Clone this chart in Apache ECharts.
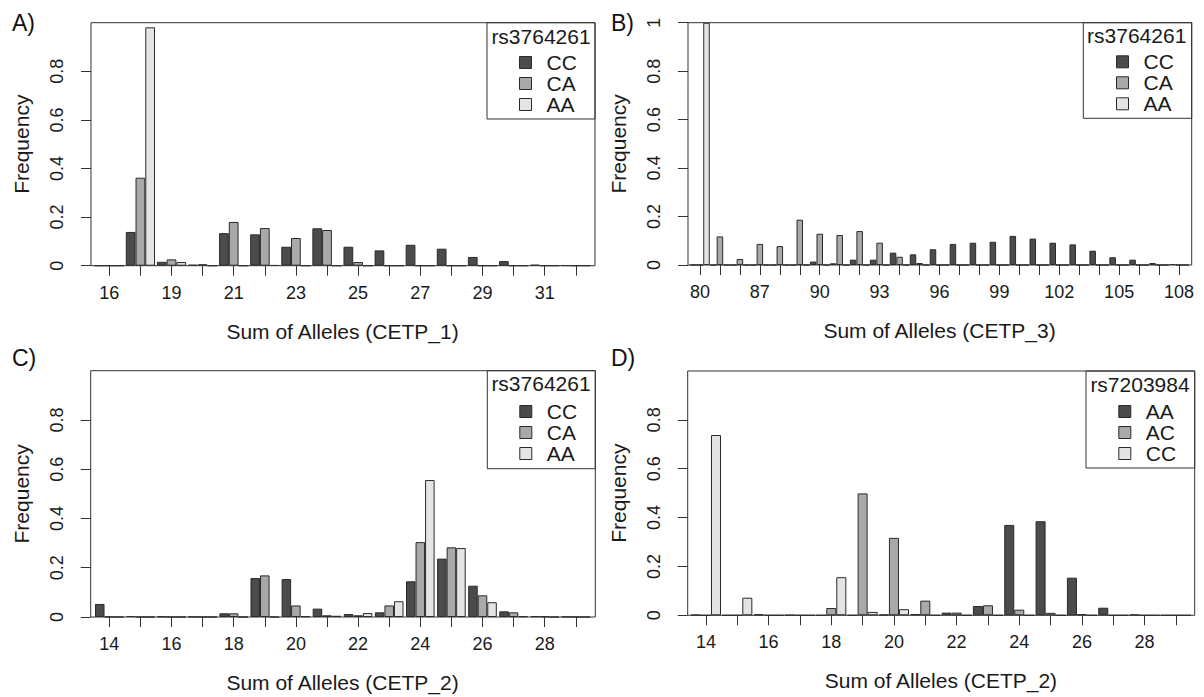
<!DOCTYPE html>
<html><head><meta charset="utf-8">
<script src="https://cdn.jsdelivr.net/npm/echarts@6/dist/echarts.min.js"></script>
<style>html,body{margin:0;padding:0;background:#fff}#c{width:1204px;height:697px}</style>
</head><body><div id="c"></div>
<script>
// ---------- data ----------
const catsA = ['16','18','19','20','21','22','23','24','25','26','27','28','29','30','31','32'];
const A_CC = [0, 0.139, 0.016, 0.004, 0.134, 0.129, 0.078, 0.154, 0.078, 0.063, 0.086, 0.070, 0.036, 0.019, 0.004, 0.001];
const A_CA = [0, 0.362, 0.026, 0.006, 0.180, 0.155, 0.114, 0.147, 0.015, 0, 0, 0, 0, 0, 0, 0];
const A_AA = [0, 0.981, 0.015, 0, 0, 0.002, 0, 0, 0, 0, 0, 0, 0, 0, 0, 0];

const catsB = ['80','83','85','87','88','89','90','91','92','93','94','95','96','97','98','99','100','101','102','103','104','105','106','107','108'];
const B_CC = [0, 0, 0, 0, 0, 0, 0.014, 0.007, 0.022, 0.022, 0.051, 0.044, 0.065, 0.087, 0.092, 0.096, 0.120, 0.109, 0.092, 0.085, 0.059, 0.032, 0.022, 0.008, 0.004];
const B_CA = [0, 0.118, 0.025, 0.087, 0.078, 0.187, 0.129, 0.124, 0.140, 0.092, 0.034, 0.008, 0, 0, 0, 0, 0, 0, 0, 0, 0, 0, 0, 0, 0];
const B_AA = [1.0, 0, 0, 0, 0, 0, 0, 0, 0, 0, 0, 0, 0, 0, 0, 0, 0, 0, 0, 0, 0, 0, 0, 0, 0];

const catsC = ['14','15','16','17','18','19','20','21','22','23','24','25','26','27','28','29'];
const C_CC = [0.053, 0.004, 0.002, 0.001, 0.015, 0.158, 0.154, 0.034, 0.012, 0.019, 0.145, 0.237, 0.127, 0.023, 0.003, 0.001];
const C_CA = [0.001, 0, 0, 0, 0.015, 0.169, 0.047, 0.007, 0.007, 0.047, 0.304, 0.283, 0.088, 0.019, 0.002, 0];
const C_AA = [0, 0, 0, 0, 0, 0, 0.003, 0.005, 0.016, 0.064, 0.556, 0.280, 0.060, 0.003, 0, 0];

const catsD = ['14','15','16','17','18','19','20','21','22','23','24','25','26','27','28','29'];
const D_AA = [0.002, 0, 0.004, 0.001, 0, 0, 0.003, 0.005, 0.011, 0.038, 0.370, 0.385, 0.154, 0.031, 0.003, 0];
const D_AC = [0, 0, 0, 0, 0.030, 0.499, 0.317, 0.060, 0.011, 0.041, 0.023, 0.010, 0.005, 0, 0, 0];
const D_CC = [0.738, 0.072, 0, 0, 0.156, 0.014, 0.025, 0, 0, 0, 0, 0, 0, 0, 0, 0];

const yTicksShort = [0, 0.2, 0.4, 0.6, 0.8];
const yTicksFull = [0, 0.2, 0.4, 0.6, 0.8, 1];

const genoRs3764261 = ['CC', 'CA', 'AA'];
const genoRs7203984 = ['AA', 'AC', 'CC'];
const xTitles = ['Sum of Alleles (CETP_1)', 'Sum of Alleles (CETP_3)', 'Sum of Alleles (CETP_2)', 'Sum of Alleles (CETP_2)'];
const panelLabels = ['A)', 'B)', 'C)', 'D)'];
const legendTitles = ['rs3764261', 'rs3764261', 'rs3764261', 'rs7203984'];

// ---------- styling / layout ----------
const FONT = 'Liberation Sans, Arial, sans-serif';
const TXT = '#1a1a1a';
const LINE = '#333333';
const FILLS = ['#4b4b4b', '#a9a9a9', '#e4e4e4'];

const panels = [
  { cats: catsA, vals: [A_CC, A_CA, A_AA], names: genoRs3764261, yt: yTicksShort,
    grid: {left: 93.75, top: 22.7, width: 497.6, height: 243}, box: [91, 22.7, 504, 243], yOff: 2.75,
    li: 1, gap: '6%', legBox: [487, 22.7, 108, 96.3], head: [541, 36.3], leg: [519, 52], lab: [12, 23] },
  { cats: catsB, vals: [B_CC, B_CA, B_AA], names: genoRs3764261, yt: yTicksFull,
    grid: {left: 690, top: 22.7, width: 499, height: 242.3}, box: [688, 22.7, 503.7, 242.3], yOff: 2,
    li: 2, gap: '2%', legBox: [1083.3, 22.7, 108.4, 95.6], head: [1136.7, 35.5], leg: [1116, 51.3], lab: [611, 23] },
  { cats: catsC, vals: [C_CC, C_CA, C_AA], names: genoRs3764261, yt: yTicksShort,
    grid: {left: 93.75, top: 370.7, width: 497.6, height: 246.3}, box: [90.7, 370.7, 504.6, 246.3], yOff: 3,
    li: 1, gap: '8%', legBox: [487.3, 370.7, 108, 98], head: [541, 383.5], leg: [519.3, 401], lab: [12, 358] },
  { cats: catsD, vals: [D_AA, D_AC, D_CC], names: genoRs7203984, yt: yTicksShort,
    grid: {left: 690.3, top: 371, width: 501.3, height: 244.3}, box: [687.7, 371, 507, 244.3], yOff: 2.6,
    li: 1, gap: '4%', legBox: [1086, 371, 108.7, 97], head: [1140, 384.5], leg: [1118.3, 401], lab: [611, 358] }
];

const grids = [], xAxes = [], yAxes = [], series = [], legends = [], graphics = [];
panels.forEach((p, i) => {
  grids.push(Object.assign({}, p.grid));
  xAxes.push({
    type: 'category', gridIndex: i, data: p.cats,
    axisLine: {show: false},
    axisTick: {show: true, alignWithLabel: true, interval: 0, length: 10, lineStyle: {color: LINE, width: 1}},
    axisLabel: {interval: p.li, margin: 18, fontSize: 18, color: TXT, fontFamily: FONT},
    splitLine: {show: false},
    name: xTitles[i], nameLocation: 'middle', nameGap: 55,
    nameTextStyle: {fontSize: 21, color: TXT, fontFamily: FONT}
  });
  yAxes.push({
    type: 'value', gridIndex: i, min: 0, max: 1, offset: p.yOff,
    axisLine: {show: false}, splitLine: {show: false},
    axisTick: {show: true, length: 10, customValues: p.yt, lineStyle: {color: LINE, width: 1}},
    axisLabel: {rotate: 90, margin: 25, customValues: p.yt, fontSize: 18, color: TXT, fontFamily: FONT},
    name: 'Frequency', nameLocation: 'middle', nameGap: 59,
    nameTextStyle: {fontSize: 21, color: TXT, fontFamily: FONT}
  });
  p.vals.forEach((v, k) => {
    series.push({
      type: 'bar', name: p.names[k], xAxisIndex: i, yAxisIndex: i, data: v,
      barGap: '0%', barCategoryGap: p.gap,
      itemStyle: {color: FILLS[k], borderColor: '#2a2a2a', borderWidth: 1},
      emphasis: {disabled: true}
    });
  });
  legends.push({
    orient: 'vertical', left: p.leg[0], top: p.leg[1], padding: 0, itemGap: 0,
    itemWidth: 12, itemHeight: 12, icon: 'rect', selectedMode: false,
    textStyle: {fontSize: 21, color: TXT, fontFamily: FONT, lineHeight: 19.3, padding: [0, 0, 0, 10]},
    data: p.names.map((n, k) => ({name: n, itemStyle: {color: FILLS[k], borderColor: '#2a2a2a', borderWidth: 1}}))
  });
  graphics.push({type: 'rect', z: 100, shape: {x: p.box[0], y: p.box[1], width: p.box[2], height: p.box[3]},
    style: {fill: 'none', stroke: LINE, lineWidth: 1}, silent: true});
  graphics.push({type: 'rect', z: 100, shape: {x: p.legBox[0], y: p.legBox[1], width: p.legBox[2], height: p.legBox[3]},
    style: {fill: 'none', stroke: LINE, lineWidth: 1}, silent: true});
  graphics.push({type: 'text', z: 100, style: {text: legendTitles[i], x: p.head[0], y: p.head[1], align: 'center', verticalAlign: 'middle',
    fontSize: 21, fontFamily: FONT, fill: TXT}, silent: true});
  graphics.push({type: 'text', z: 100, style: {text: panelLabels[i], x: p.lab[0], y: p.lab[1], align: 'left', verticalAlign: 'middle',
    fontSize: 23, fontFamily: FONT, fill: '#111'}, silent: true});
});

const chart = echarts.init(document.getElementById('c'), null, {renderer: 'svg', width: 1204, height: 697});
chart.setOption({
  animation: false,
  backgroundColor: '#ffffff',
  grid: grids, xAxis: xAxes, yAxis: yAxes, series: series, legend: legends,
  graphic: graphics
});
</script>
</body></html>
